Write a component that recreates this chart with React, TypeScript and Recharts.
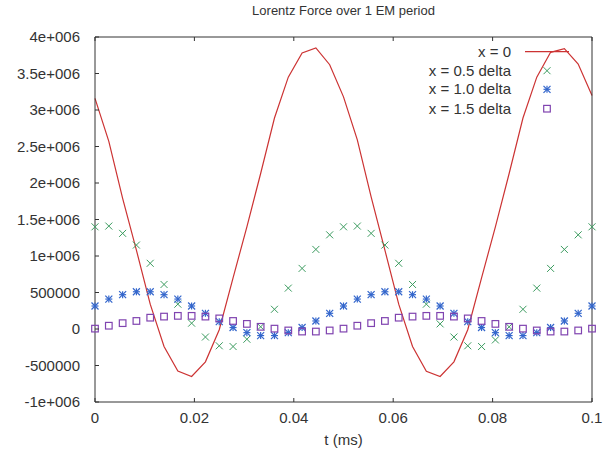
import { ComposedChart, Line, XAxis, YAxis } from "recharts";

const times = [
  0, 0.00278, 0.00556, 0.00833, 0.01111, 0.01389, 0.01667, 0.01944, 0.02222, 0.025,
  0.02778, 0.03056, 0.03333, 0.03611, 0.03889, 0.04167, 0.04444, 0.04722, 0.05,
  0.05278, 0.05556, 0.05833, 0.06111, 0.06389, 0.06667, 0.06944, 0.07222, 0.075,
  0.07778, 0.08056, 0.08333, 0.08611, 0.08889, 0.09167, 0.09444, 0.09722, 0.1,
];

// x = 0
const force0 = [
  3160000, 2570000, 1790000, 1080000, 340000, -240000, -575000, -650000, -450000, -10000,
  700000, 1400000, 2130000, 2890000, 3450000, 3780000, 3850000, 3620000, 3180000,
  2590000, 1810000, 1080000, 340000, -240000, -580000, -650000, -450000, -10000,
  700000, 1400000, 2130000, 2890000, 3450000, 3790000, 3840000, 3630000, 3200000,
];

// x = 0.5 delta
const force05 = [
  1400000, 1410000, 1310000, 1150000, 900000, 610000, 340000, 80000, -110000, -230000,
  -240000, -140000, 30000, 270000, 560000, 830000, 1090000, 1290000, 1400000,
  1410000, 1310000, 1150000, 900000, 610000, 340000, 70000, -110000, -230000,
  -240000, -150000, 30000, 270000, 560000, 830000, 1090000, 1290000, 1400000,
];

// x = 1.0 delta
const force10 = [
  315000, 410000, 470000, 510000, 510000, 470000, 410000, 315000, 215000, 100000,
  20000, -50000, -90000, -90000, -50000, 20000, 110000, 215000, 315000,
  410000, 470000, 510000, 510000, 470000, 410000, 315000, 215000, 100000,
  20000, -50000, -90000, -90000, -50000, 20000, 110000, 215000, 315000,
];

// x = 1.5 delta
const force15 = [
  5000, 45000, 80000, 110000, 155000, 170000, 180000, 180000, 170000, 145000,
  110000, 70000, 30000, 5000, -20000, -35000, -35000, -20000, 5000,
  45000, 80000, 110000, 155000, 170000, 180000, 180000, 170000, 145000,
  110000, 70000, 30000, 5000, -20000, -35000, -35000, -20000, 5000,
];

const xTicks = [0, 0.02, 0.04, 0.06, 0.08, 0.1];
const yTicks = [-1000000, -500000, 0, 500000, 1000000, 1500000, 2000000, 2500000, 3000000, 3500000, 4000000];
const yTickLabels = ["-1e+006", "-500000", "0", "500000", "1e+006", "1.5e+006", "2e+006", "2.5e+006", "3e+006", "3.5e+006", "4e+006"];
const legendLabels = ["x = 0", "x = 0.5 delta", "x = 1.0 delta", "x = 1.5 delta"];

const data = times.map((t, i) => ({
  t,
  f0: force0[i],
  f05: force05[i],
  f10: force10[i],
  f15: force15[i],
}));

const AXIS = "#333";
const TEXT = "#333";
const RED = "#cc3333";
const GREEN = "#3c9c60";
const BLUE = "#3366cc";
const PURPLE = "#8044b0";
const FONT = "'Liberation Sans', Arial, sans-serif";

function CrossMark({ cx, cy, color }: { cx: number; cy: number; color: string }) {
  const s = 3.5;
  return (
    <g stroke={color} strokeWidth={1}>
      <line x1={cx - s} y1={cy - s} x2={cx + s} y2={cy + s} />
      <line x1={cx - s} y1={cy + s} x2={cx + s} y2={cy - s} />
    </g>
  );
}

function StarMark({ cx, cy, color }: { cx: number; cy: number; color: string }) {
  const s = 3.5;
  return (
    <g stroke={color} strokeWidth={1.2}>
      <line x1={cx - s} y1={cy - s} x2={cx + s} y2={cy + s} />
      <line x1={cx - s} y1={cy + s} x2={cx + s} y2={cy - s} />
      <line x1={cx - s} y1={cy} x2={cx + s} y2={cy} />
      <line x1={cx} y1={cy - s} x2={cx} y2={cy + s} />
    </g>
  );
}

function SquareMark({ cx, cy, color }: { cx: number; cy: number; color: string }) {
  const s = 3.3;
  return <rect x={cx - s} y={cy - s} width={2 * s} height={2 * s} fill="none" stroke={color} strokeWidth={1.2} />;
}

const BottomTick = (props: any) => {
  const { x, y, payload } = props;
  return (
    <g>
      <line x1={x} y1={y} x2={x} y2={y - 4} stroke={AXIS} />
      <text x={x} y={y + 21} textAnchor="middle" fill={TEXT} fontSize={15}>
        {String(payload.value)}
      </text>
    </g>
  );
};

const LeftTick = (props: any) => {
  const { x, y, payload } = props;
  const idx = yTicks.indexOf(payload.value);
  return (
    <g>
      <line x1={x} y1={y} x2={x + 4} y2={y} stroke={AXIS} />
      <text x={x - 15} y={y + 5} textAnchor="end" fill={TEXT} fontSize={15}>
        {idx >= 0 ? yTickLabels[idx] : String(payload.value)}
      </text>
    </g>
  );
};

const TopTick = (props: any) => {
  const { x, y } = props;
  return <line x1={x} y1={y} x2={x} y2={y + 4} stroke={AXIS} />;
};

const RightTick = (props: any) => {
  const { x, y } = props;
  return <line x1={x} y1={y} x2={x - 4} y2={y} stroke={AXIS} />;
};

const legendRows = [51.7, 70.7, 89.3, 108.7];

export default function App() {
  return (
    <div style={{ position: "absolute", left: 0, top: 0, width: 610, height: 461, background: "#fff", fontFamily: FONT }}>
      <ComposedChart width={610} height={461} data={data} margin={{ top: 36, right: 17, bottom: 9, left: 5 }}>
        <XAxis
          xAxisId="b"
          type="number"
          dataKey="t"
          domain={[0, 0.1]}
          ticks={xTicks}
          interval={0}
          tick={<BottomTick />}
          tickSize={0}
          tickMargin={0}
          tickLine={false}
          axisLine={{ stroke: AXIS }}
          height={50}
        />
        <XAxis
          xAxisId="t"
          orientation="top"
          type="number"
          dataKey="t"
          domain={[0, 0.1]}
          ticks={xTicks}
          interval={0}
          tick={<TopTick />}
          tickSize={0}
          tickMargin={0}
          tickLine={false}
          axisLine={{ stroke: AXIS }}
          height={1}
        />
        <YAxis
          yAxisId="l"
          type="number"
          domain={[-1000000, 4000000]}
          ticks={yTicks}
          interval={0}
          tick={<LeftTick />}
          tickSize={0}
          tickMargin={0}
          tickLine={false}
          axisLine={{ stroke: AXIS }}
          width={90}
        />
        <YAxis
          yAxisId="r"
          orientation="right"
          type="number"
          domain={[-1000000, 4000000]}
          ticks={yTicks}
          interval={0}
          tick={<RightTick />}
          tickSize={0}
          tickMargin={0}
          tickLine={false}
          axisLine={{ stroke: AXIS }}
          width={1}
        />
        <Line
          xAxisId="b"
          yAxisId="l"
          type="linear"
          dataKey="f0"
          stroke={RED}
          strokeWidth={1.2}
          dot={false}
          activeDot={false}
          isAnimationActive={false}
        />
        <Line
          xAxisId="b"
          yAxisId="l"
          dataKey="f05"
          stroke="none"
          dot={(p: any) => <CrossMark key={`a${p.index}`} cx={p.cx} cy={p.cy} color={GREEN} />}
          activeDot={false}
          isAnimationActive={false}
        />
        <Line
          xAxisId="b"
          yAxisId="l"
          dataKey="f10"
          stroke="none"
          dot={(p: any) => <StarMark key={`b${p.index}`} cx={p.cx} cy={p.cy} color={BLUE} />}
          activeDot={false}
          isAnimationActive={false}
        />
        <Line
          xAxisId="b"
          yAxisId="l"
          dataKey="f15"
          stroke="none"
          dot={(p: any) => <SquareMark key={`c${p.index}`} cx={p.cx} cy={p.cy} color={PURPLE} />}
          activeDot={false}
          isAnimationActive={false}
        />
      </ComposedChart>
      <svg
        width={610}
        height={461}
        style={{ position: "absolute", left: 0, top: 0, pointerEvents: "none", fontFamily: FONT }}
      >
        <text x={343.5} y={15} textAnchor="middle" fill={TEXT} fontSize={13}>
          Lorentz Force over 1 EM period
        </text>
        <text x={343.5} y={445} textAnchor="middle" fill={TEXT} fontSize={15}>
          t (ms)
        </text>
        {legendLabels.map((label, i) => (
          <text key={label} x={511} y={legendRows[i] + 5} textAnchor="end" fill={TEXT} fontSize={15}>
            {label}
          </text>
        ))}
        <line x1={525} y1={legendRows[0]} x2={569} y2={legendRows[0]} stroke={RED} strokeWidth={1.2} />
        <CrossMark cx={547} cy={legendRows[1]} color={GREEN} />
        <StarMark cx={547} cy={legendRows[2]} color={BLUE} />
        <SquareMark cx={547} cy={legendRows[3]} color={PURPLE} />
      </svg>
    </div>
  );
}
